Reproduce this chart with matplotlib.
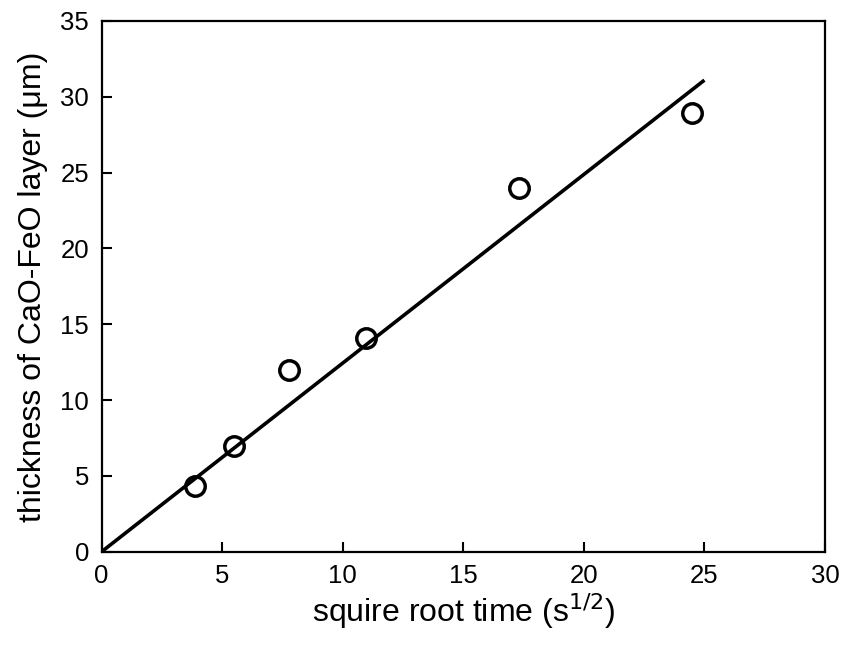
import matplotlib.pyplot as plt

plt.rcParams['font.family'] = ['Liberation Sans', 'DejaVu Sans']

sqrt_t = [3.87, 5.48, 7.75, 10.95, 17.32, 24.49]
thickness = [4.3, 7.0, 12.0, 14.1, 24.0, 28.9]
fit_x = [0, 25]
fit_y = [0, 31.1]

fig = plt.figure(figsize=(8.43, 6.46), dpi=100)
ax = fig.add_axes([0.1206, 0.146, 0.858, 0.8215])

ax.plot(fit_x, fit_y, color='black', lw=2.6, solid_capstyle='butt')
ax.plot(sqrt_t, thickness, 'o', ms=14, mfc='none', mec='black', mew=2.5)

ax.set_xlim(0, 30)
ax.set_ylim(0, 35)
ax.set_xticks(range(0, 31, 5))
ax.set_yticks(range(0, 36, 5))
ax.tick_params(direction='in', length=7, width=1.5, labelsize=18.5, pad=9)
for s in ax.spines.values():
    s.set_linewidth(1.6)

ax.set_xlabel('squire root time (s$^{1/2}$)', fontsize=23, labelpad=2)
ax.set_ylabel('thickness of CaO-FeO layer (\u03bcm)', fontsize=23, labelpad=9)

fig.savefig('out.png', dpi=100)
